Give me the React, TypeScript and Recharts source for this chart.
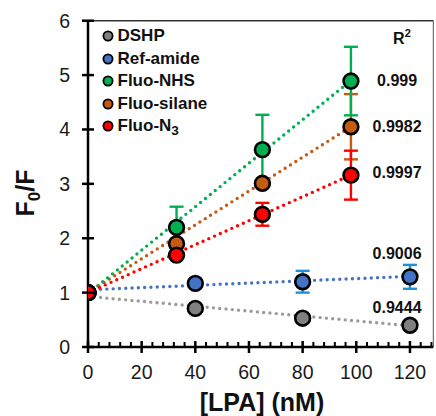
import React from "react";
import {
  ComposedChart,
  Scatter,
  Line,
  XAxis,
  YAxis,
  ErrorBar,
  ReferenceLine,
  ReferenceDot,
  Legend,
} from "recharts";

// concentrations (nM)
const concA = [0, 40, 80, 120];
const concB = [0, 33, 65, 98];

// F0/F readings
const dshp = [1.0, 0.71, 0.53, 0.4];
const refAmide = [1.0, 1.17, 1.2, 1.29];
const refAmideErr = [0, 0, 0.2, 0.22];
const fluoNhs = [1.0, 2.2, 3.63, 4.89];
const fluoNhsErr = [0, 0.38, 0.64, 0.63];
const fluoSilane = [1.0, 1.9, 3.01, 4.05];
const fluoSilaneErr = [0, 0, 0, 0.6];
const fluoN3 = [1.0, 1.69, 2.44, 3.16];
const fluoN3Err = [0, 0, 0.21, 0.45];

// linear fit end points [x0, y0, x1, y1]
const fitDshp = [0, 0.93, 120, 0.39];
const fitRef = [0, 1.05, 120, 1.3];
const fitNhs = [0, 0.98, 98, 4.9];
const fitSilane = [0, 1.0, 98, 4.05];
const fitN3 = [0, 1.0, 98, 3.16];

const r2Labels = ["0.999", "0.9982", "0.9997", "0.9006", "0.9444"];
const xTicks = [0, 4, 8, 12, 16, 20, 24, 28, 32, 36, 40, 44, 48, 52, 56, 60, 64, 68, 72, 76, 80, 84, 88, 92, 96, 100, 104, 108, 112, 116, 120, 124, 128];
const yTicks = [0, 1, 2, 3, 4, 5, 6];

const FONT = "'Liberation Sans', Arial, sans-serif";

const pts = (xs: number[], ys: number[], errs?: number[]) =>
  xs.map((x, i) => ({ x, y: ys[i], err: errs ? errs[i] : 0 }));
const fit = (f: number[]) => [
  { x: f[0], y: f[1] },
  { x: f[2], y: f[3] },
];

const series = [
  { name: "DSHP", color: "#808080", dots: "#9a9a9a", data: pts(concA, dshp), fit: fitDshp, err: false, errColor: "#808080" },
  { name: "Ref-amide", color: "#4472C4", dots: "#4472C4", data: pts(concA, refAmide, refAmideErr), fit: fitRef, err: true, errColor: "#1f8fd8" },
  { name: "Fluo-silane", color: "#C55A11", dots: "#C55A11", data: pts(concB, fluoSilane, fluoSilaneErr), fit: fitSilane, err: true, errColor: "#C55A11" },
  { name: "Fluo-NHS", color: "#00B050", dots: "#00B050", data: pts(concB, fluoNhs, fluoNhsErr), fit: fitNhs, err: true, errColor: "#00B050" },
  { name: "Fluo-N3", color: "#FF0000", dots: "#FF0000", data: pts(concB, fluoN3, fluoN3Err), fit: fitN3, err: true, errColor: "#FF0000" },
];

const legendOrder = ["DSHP", "Ref-amide", "Fluo-NHS", "Fluo-silane", "Fluo-N3"];

const XTick = (props: any) => {
  const { x, y, payload } = props;
  const v = payload.value;
  if (v % 20 !== 0) {
    return <line x1={x} x2={x} y1={y - 5} y2={y} stroke="#000" strokeWidth={2} />;
  }
  return (
    <g>
      <line x1={x} x2={x} y1={y - 6} y2={y + 6} stroke="#000" strokeWidth={2.5} />
      <text x={x} y={y + 32} textAnchor="middle" fontSize={19.5} fontFamily={FONT} fill="#1a1a1a">
        {v}
      </text>
    </g>
  );
};

const YTick = (props: any) => {
  const { x, y, payload } = props;
  return (
    <g>
      <line x1={x - 6} x2={x + 6} y1={y} y2={y} stroke="#000" strokeWidth={2.5} />
      <text x={x - 18} y={y + 7} textAnchor="end" fontSize={19.5} fontFamily={FONT} fill="#1a1a1a">
        {payload.value}
      </text>
    </g>
  );
};

const LegendBox = () => (
  <div style={{ fontFamily: FONT, fontWeight: "bold", fontSize: 17, color: "#111" }}>
    {legendOrder.map((n) => {
      const s = series.find((q) => q.name === n)!;
      return (
        <div key={n} style={{ display: "flex", alignItems: "center", height: 22.6 }}>
          <svg width={12} height={12} style={{ marginRight: 3.5 }}>
            <circle cx={6} cy={6} r={4.6} fill={s.color} stroke="#000" strokeWidth={1.8} />
          </svg>
          {n === "Fluo-N3" ? (
            <span>
              Fluo-N<span style={{ fontSize: "0.8em", position: "relative", top: "0.3em" }}>3</span>
            </span>
          ) : (
            <span>{n}</span>
          )}
        </div>
      );
    })}
  </div>
);

const annText = (value: string) => (props: any) => {
  const { viewBox } = props;
  return (
    <text x={viewBox.x} y={viewBox.y + 6} textAnchor="middle" fontSize={16} fontWeight="bold" fontFamily={FONT} fill="#111">
      {value}
    </text>
  );
};

export default function App() {
  return (
    <div style={{ position: "absolute", left: 0, top: 0, width: 436, height: 416, background: "#fff" }}>
      <ComposedChart width={436} height={416} margin={{ top: 20.7, right: 2.7, bottom: 0, left: 0 }}>
        <XAxis
          type="number"
          dataKey="x"
          domain={[0, 128.7]}
          ticks={xTicks}
          interval={0}
          allowDataOverflow
          height={69}
          tickSize={0}
          tickMargin={0}
          tick={XTick}
          axisLine={{ stroke: "#000", strokeWidth: 2.5 }}
          label={() => (
            <text x={262} y={411} textAnchor="middle" fontSize={25} fontWeight="bold" fontFamily={FONT} fill="#111">
              [LPA] (nM)
            </text>
          )}
        />
        <YAxis
          type="number"
          dataKey="y"
          domain={[0, 6]}
          ticks={yTicks}
          interval={0}
          width={88}
          tickSize={0}
          tickMargin={0}
          tick={YTick}
          axisLine={{ stroke: "#000", strokeWidth: 2.5 }}
          label={() => (
            <text
              transform="translate(34 193) rotate(-90)"
              textAnchor="middle"
              fontSize={25}
              fontWeight="bold"
              fontFamily={FONT}
              fill="#111"
            >
              F<tspan fontSize={17} dy={6}>0</tspan>
              <tspan dy={-6}>/F</tspan>
            </text>
          )}
        />
        <ReferenceLine y={6} stroke="#333" strokeWidth={1.5} />
        <ReferenceLine x={128.7} stroke="#555" strokeWidth={1} />
        {series.map((s) => (
          <Line
            key={"fit-" + s.name}
            data={fit(s.fit)}
            dataKey="y"
            stroke={s.dots}
            strokeWidth={3.4}
            strokeDasharray="0 6.3"
            strokeLinecap="round"
            dot={false}
            activeDot={false}
            legendType="none"
            isAnimationActive={false}
          />
        ))}
        {series.map((s) => (
          <Scatter
            key={"pts-" + s.name}
            name={s.name}
            data={s.data}
            fill={s.color}
            isAnimationActive={false}
            shape={(p: any) => (
              <circle cx={p.cx} cy={p.cy} r={7.4} fill={s.color} stroke="#000" strokeWidth={2.6} />
            )}
          >
            {s.err && (
              <ErrorBar dataKey="err" direction="y" width={7} stroke={s.errColor} strokeWidth={2.4} />
            )}
          </Scatter>
        ))}
        <ReferenceDot x={117} y={5.68} r={0} stroke="none" label={(p: any) => (
          <text x={p.viewBox.x} y={p.viewBox.y + 6} textAnchor="middle" fontSize={16} fontWeight="bold" fontFamily={FONT} fill="#111">
            R<tspan fontSize={11} dy={-7}>2</tspan>
          </text>
        )} />
        <ReferenceDot x={115.2} y={4.91} r={0} stroke="none" label={annText(r2Labels[0])} />
        <ReferenceDot x={115.2} y={4.06} r={0} stroke="none" label={annText(r2Labels[1])} />
        <ReferenceDot x={115.2} y={3.22} r={0} stroke="none" label={annText(r2Labels[2])} />
        <ReferenceDot x={115.2} y={1.73} r={0} stroke="none" label={annText(r2Labels[3])} />
        <ReferenceDot x={115.2} y={0.735} r={0} stroke="none" label={annText(r2Labels[4])} />
        <Legend
          layout="vertical"
          align="center"
          verticalAlign="middle"
          wrapperStyle={{ left: 102, top: 24.7, width: 140, height: 115 }}
          content={LegendBox}
        />
      </ComposedChart>
    </div>
  );
}
